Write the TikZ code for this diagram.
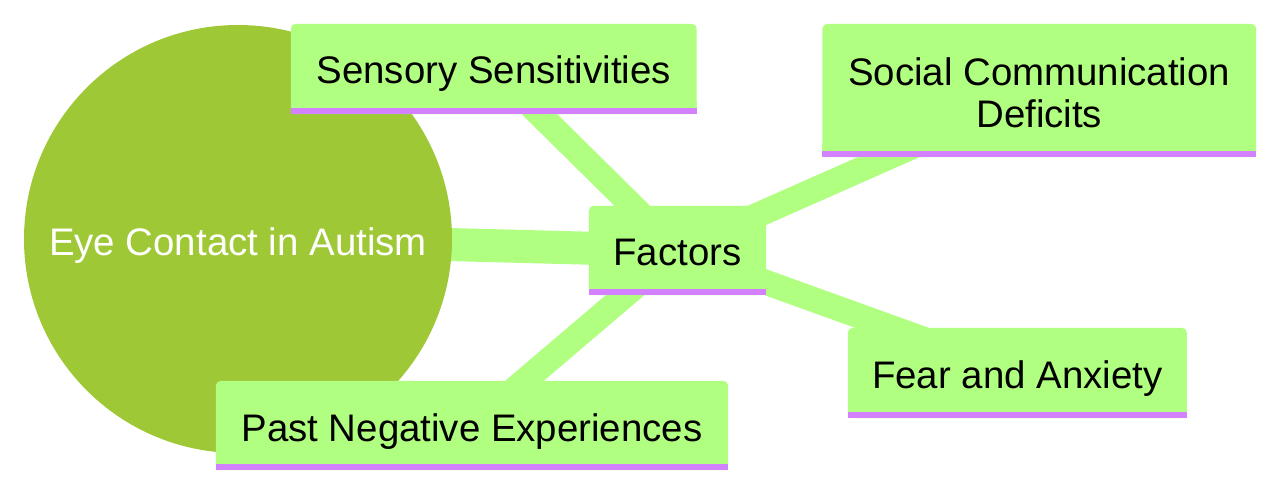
\documentclass[tikz,border=0pt]{standalone}
\usepackage{fontspec}
\setmainfont{Liberation Sans}
\definecolor{boxgreen}{RGB}{176,255,128}
\definecolor{rootgreen}{RGB}{159,200,55}
\definecolor{bandpurple}{RGB}{211,129,255}
\pgfdeclarelayer{edges}
\pgfdeclarelayer{rootbg}
\pgfdeclarelayer{boxbg}
\pgfsetlayers{edges,rootbg,boxbg,main}
\newcommand{\mmboxbg}[1]{%
  \begin{pgfonlayer}{boxbg}
    \fill[boxgreen, rounded corners=5pt] (#1.south west) rectangle (#1.north east);
    \fill[boxgreen] (#1.south west) rectangle ([yshift=12pt]#1.south east);
    \fill[bandpurple] (#1.south west) rectangle ([yshift=6.5pt]#1.south east);
  \end{pgfonlayer}}
\tikzset{
  mmtext/.style={font=\fontsize{38.4}{42.7}\selectfont, inner sep=0pt, text height=29pt, text depth=0pt, align=center},
  mmbox/.style={mmtext, rectangle, text=black},
  edgeone/.style={draw=boxgreen, line width=33pt},
  edgetwo/.style={draw=boxgreen, line width=25pt}
}
\begin{document}
\begin{tikzpicture}[x=1pt,y=-1pt]
\useasboundingbox (0,0) rectangle (1280,491);
% nodes
\node[mmtext, circle, minimum size=428pt, text=white, text height=32pt] (root) at (238,239) {Eye Contact in Autism};
\node[mmbox, minimum width=177pt, minimum height=89pt] (fac) at (677.5,250.5) {Factors};
\node[mmbox, minimum width=405.5pt, minimum height=90pt] (sens) at (493.75,69) {Sensory Sensitivities};
\node[mmbox, minimum width=433.5pt, minimum height=133pt, text height=74.4pt] (soc) at (1039.25,90.5) {Social Communication\\Deficits};
\node[mmbox, minimum width=338.7pt, minimum height=90pt, text height=31pt] (fear) at (1017.3,373) {Fear and Anxiety};
\node[mmbox, minimum width=512pt, minimum height=89pt, text height=31pt] (past) at (472,425.5) {Past Negative Experiences};
% backgrounds
\begin{pgfonlayer}{rootbg}
  \fill[rootgreen] (root.center) circle[radius=214pt];
\end{pgfonlayer}
\mmboxbg{fac}
\mmboxbg{sens}
\mmboxbg{soc}
\mmboxbg{fear}
\mmboxbg{past}
% connectors
\begin{pgfonlayer}{edges}
  \draw[edgeone] (root.center) -- (fac.center);
  \draw[edgetwo] (fac.center) -- (sens.center);
  \draw[edgetwo] (fac.center) -- (soc.center);
  \draw[edgetwo] (fac.center) -- (fear.center);
  \draw[edgetwo] (fac.center) -- (past.center);
\end{pgfonlayer}
\end{tikzpicture}
\end{document}
